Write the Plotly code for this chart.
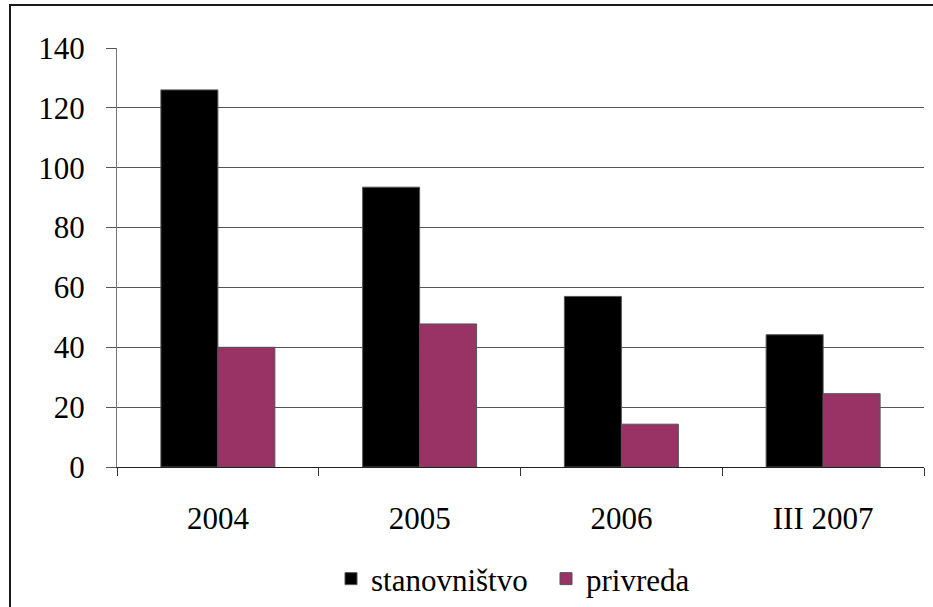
import plotly.graph_objects as go

categories = ["2004", "2005", "2006", "III 2007"]
stanovnistvo = [126, 93.5, 57, 44.2]
privreda = [40, 47.8, 14.3, 24.5]
y_ticks = [0, 20, 40, 60, 80, 100, 120, 140]

FONT = "Liberation Serif"

fig = go.Figure()
fig.add_trace(go.Bar(
    name="stanovništvo", x=categories, y=stanovnistvo,
    marker=dict(color="#000000", line=dict(color="#555555", width=1)),
))
fig.add_trace(go.Bar(
    name="privreda", x=categories, y=privreda,
    marker=dict(color="#993366", line=dict(color="#555555", width=1)),
))

W, H = 933, 607
L, R, T, B = 117, 9, 48, 140
pw, ph = W - L - R, H - T - B

def px_to_paper_x(px):
    return (px - L) / pw

def px_to_paper_y(py):
    return (H - B - py) / ph

fig.update_layout(
    width=W, height=H,
    margin=dict(l=L, r=R, t=T, b=B, pad=0, autoexpand=False),
    paper_bgcolor="white", plot_bgcolor="white",
    barmode="group", bargap=0.435, bargroupgap=0,
    font=dict(family=FONT, size=31, color="#000000"),
    showlegend=True,
    legend=dict(
        orientation="h", x=px_to_paper_x(331), xanchor="left",
        y=px_to_paper_y(579), yanchor="middle",
        font=dict(family=FONT, size=31, color="#000000"),
        bgcolor="rgba(0,0,0,0)", itemclick=False, tracegroupgap=0,
        entrywidth=170, entrywidthmode="pixels",
    ),
    xaxis=dict(
        type="category", tickson="boundaries", automargin=False,
        ticks="outside", ticklen=8, tickcolor="#333333", tickwidth=1,
        showline=True, linecolor="#222222", linewidth=1,
        showgrid=False, zeroline=False,
        tickfont=dict(family=FONT, size=31, color="#000000"),
        ticklabelstandoff=24,
    ),
    yaxis=dict(
        range=[0, 140], tickvals=y_ticks, ticktext=[str(v) for v in y_ticks],
        automargin=False,
        ticks="outside", ticklen=10, tickcolor="#555555", tickwidth=1,
        showline=True, linecolor="#777777", linewidth=1,
        showgrid=True, gridcolor="#555555", gridwidth=1,
        zeroline=False,
        tickfont=dict(family=FONT, size=31, color="#000000"),
        ticklabelstandoff=15,
    ),
    shapes=[dict(
        type="rect", xref="paper", yref="paper",
        x0=px_to_paper_x(10), x1=px_to_paper_x(945),
        y0=px_to_paper_y(620), y1=px_to_paper_y(5),
        line=dict(color="#1a1a1a", width=2), fillcolor="rgba(0,0,0,0)",
        layer="above",
    )],
)

fig.write_html("out.html")
